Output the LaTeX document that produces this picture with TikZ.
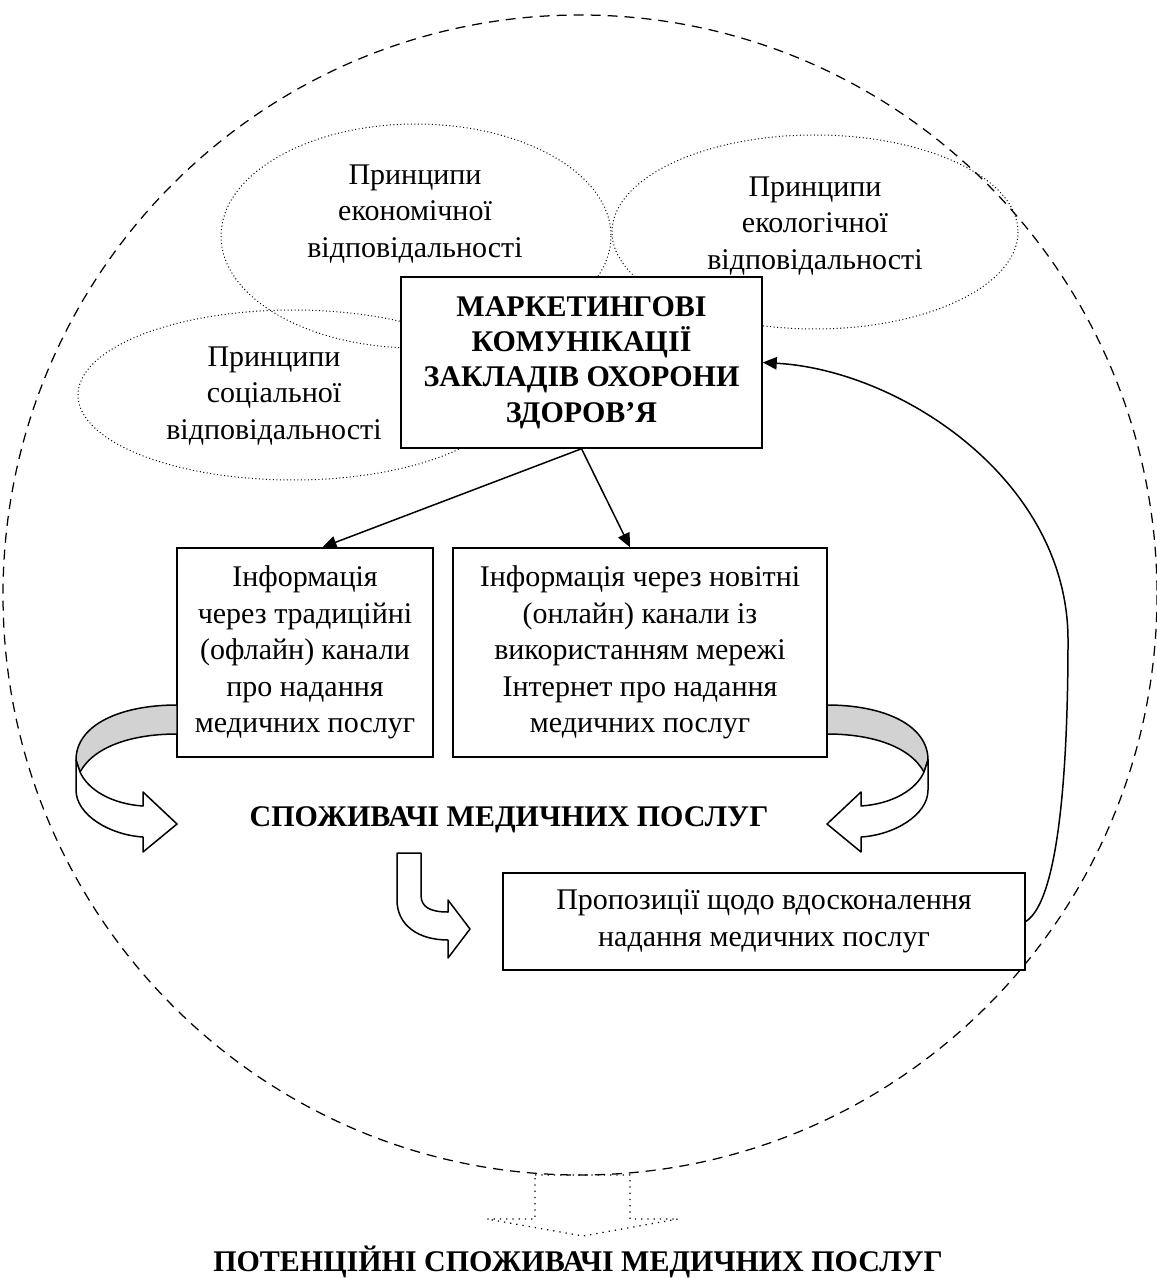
\documentclass[tikz,border=0pt]{standalone}
\usepackage{fontspec}
\setmainfont{Liberation Serif}
\usetikzlibrary{shapes,arrows.meta,positioning,calc}

\begin{document}
\begin{tikzpicture}[x=0.4pt,y=-0.4pt,
    every node/.style={font=\fontsize{12}{14.6}\selectfont,align=center},
    boldtext/.style={font=\fontsize{12}{14.1}\selectfont\bfseries},
    infobox/.style={draw,line width=0.6pt,fill=white,inner sep=0pt},
    principle/.style={draw,densely dotted,line width=0.4pt},
    link/.style={line width=0.6pt,-{Triangle[length=5.6pt,width=5pt]}},
    bentarrow/.style={draw,line width=0.6pt,line join=round}]
    \useasboundingbox (0,0) rectangle (1157,1278);
    % outer field
    \draw[line width=0.5pt,dash pattern=on 4pt off 2.8pt] (580,595) ellipse [x radius=577, y radius=580];

    % principles
    \draw[principle] (416,236) ellipse [x radius=195, y radius=112];
    \draw[principle] (815,232) ellipse [x radius=203, y radius=97];
    \draw[principle] (293,395) ellipse [x radius=215, y radius=85];
    \node (econ) at (415,214) {Принципи\\економічної\\відповідальності};
    \node (ecol) at (815,226) {Принципи\\екологічної\\відповідальності};
    \node (soc) at (274,396) {Принципи\\соціальної\\відповідальності};

    % main blocks
    \node[infobox, boldtext, minimum width=144.4pt, minimum height=68.4pt] (mc) at (581.5,362.5)
        {МАРКЕТИНГОВІ\\КОМУНІКАЦІЇ\\ЗАКЛАДІВ ОХОРОНИ\\ЗДОРОВ’Я};
    \node[infobox, minimum width=102.4pt, minimum height=83.6pt] (trad) at (305,652.5)
        {Інформація\\через традиційні\\(офлайн) канали\\про надання\\медичних послуг};
    \node[infobox, minimum width=149.6pt, minimum height=83.6pt] (online) at (640,652.5)
        {Інформація через новітні\\(онлайн) канали із\\використанням мережі\\Інтернет про надання\\медичних послуг};
    \node[boldtext] (users) at (509,820) {СПОЖИВАЧІ МЕДИЧНИХ ПОСЛУГ};
    \node[infobox, minimum width=208.8pt, minimum height=38.8pt] (prop) at (764,921.5)
        {Пропозиції щодо вдосконалення\\надання медичних послуг};
    \node[boldtext] (potential) at (578,1262) {ПОТЕНЦІЙНІ СПОЖИВАЧІ МЕДИЧНИХ ПОСЛУГ};

    % connectors
    \draw[link] (mc.south) -- ([xshift=7pt]trad.north);
    \draw[link] (mc.south) -- ([xshift=-4pt]online.north);
    \draw[link] (prop.east) .. controls (1060,900) and (1068,760) .. (1068,640)
        .. controls (1068,480) and (900,370) .. (mc.east);

    % curved arrows to the consumers
    \foreach \flip/\move in {1/0, -1/1004} {
        \begin{scope}[shift={(\move,0)}, xscale=\flip]
            \draw[bentarrow, fill=gray!35] (177,705) .. controls (120,705) and (76,725) .. (76,760)
                -- (80,772) .. controls (95,745) and (135,734) .. (177,734) -- cycle;
            \draw[bentarrow, fill=white] (76,760) -- (76,790) .. controls (76,815) and (110,835) .. (143,837)
                -- (143,852) -- (177,824) -- (143,792) -- (143,806)
                .. controls (112,804) and (88,790) .. (80,772) -- cycle;
        \end{scope}
    }
    \draw[bentarrow, fill=white] (397,853) -- (421,853) -- (421,895)
        .. controls (421,907) and (430,912) .. (448,912) -- (448,900) -- (470,929)
        -- (448,958) -- (448,940) .. controls (418,940) and (397,925) .. (397,900) -- cycle;

    % way out to potential consumers
    \draw[dotted, line width=0.5pt] (535,1175) -- (630,1175) -- (630,1219) -- (678,1219)
        -- (583,1236) -- (487,1219) -- (535,1219) -- cycle;
\end{tikzpicture}
\end{document}
